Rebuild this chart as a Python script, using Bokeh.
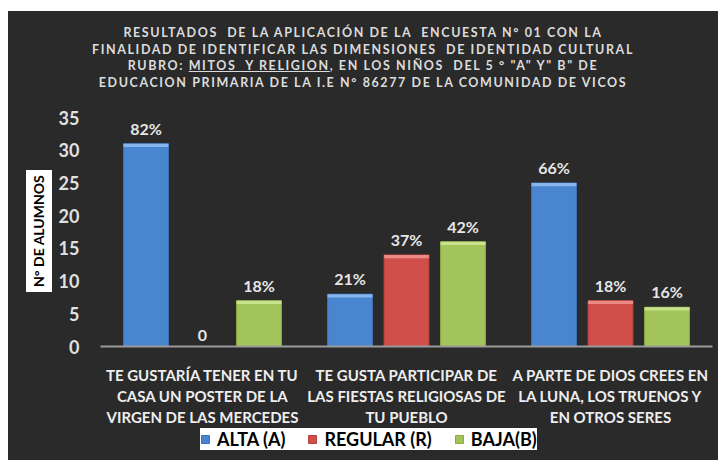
from bokeh.plotting import figure
from bokeh.layouts import column, row
from bokeh.models import (ColumnDataSource, FactorRange, Range1d, Legend, LegendItem,
                          FixedTicker, Spacer, Div)
from bokeh.transform import dodge
from bokeh.core.properties import value
from bokeh.embed import file_html
from bokeh.resources import INLINE

categories = [
    "TE GUSTARÍA TENER EN TU\nCASA UN POSTER DE LA\nVIRGEN DE LAS MERCEDES",
    "TE GUSTA PARTICIPAR DE\nLAS FIESTAS RELIGIOSAS DE\nTU PUEBLO",
    "A PARTE DE DIOS CREES EN\nLA LUNA, LOS TRUENOS Y\nEN OTROS SERES",
]
series_names = ["ALTA (A)", "REGULAR (R)", "BAJA(B)"]
alta = [31, 8, 25]
regular = [0, 14, 7]
baja = [7, 16, 6]
alta_labels = ["82%", "21%", "66%"]
regular_labels = ["0", "37%", "18%"]
baja_labels = ["18%", "42%", "16%"]
y_ticks = [0, 5, 10, 15, 20, 25, 30, 35]

title_lines = [
    "RESULTADOS  DE LA APLICACIÓN DE LA  ENCUESTA N° 01 CON LA",
    "FINALIDAD DE IDENTIFICAR LAS DIMENSIONES  DE IDENTIDAD CULTURAL",
    "RUBRO: MITOS  Y RELIGION, EN LOS NIÑOS  DEL 5 ° \"A\" Y\" B\" DE",
    "EDUCACION PRIMARIA DE LA I.E N° 86277 DE LA COMUNIDAD DE VICOS",
]
underlined = "MITOS  Y RELIGION"
y_label = "N° DE ALUMNOS"

BG = "#2a2a2a"
colors = ["#4a86d0", "#d14f4b", "#a3c458"]
bevel_colors = ["#86b4ec", "#eb8a85", "#c9e28c"]
edge_colors = ["#3d72b6", "#b8403c", "#8aab45"]

# ---------- title (HTML block above the chart) ----------
title_html = "\n".join(title_lines).replace(underlined, "<u>" + underlined + "</u>")
title_div = Div(
    text=('<div style="width:710px;height:92px;box-sizing:border-box;padding-top:14px;'
          'background:%s;color:#dcdcdc;font-family:Lato;font-weight:bold;font-size:12.5px;'
          'letter-spacing:1.6px;line-height:16.5px;text-align:center;white-space:pre;">%s</div>'
          % (BG, title_html)),
    width=710, height=92, margin=0, styles={"background-color": BG})

# ---------- y axis title box (HTML, left of the chart) ----------
ylab_div = Div(
    text=('<div style="position:relative;width:46px;height:325px;background:%s;">'
          '<div style="position:absolute;left:18px;top:67px;width:26px;height:122px;'
          'background:white;color:black;font-family:Lato;font-weight:bold;font-size:14px;'
          'writing-mode:vertical-rl;transform:rotate(180deg);line-height:26px;'
          'text-align:center;white-space:nowrap;">%s</div></div>' % (BG, y_label)),
    width=46, height=325, margin=0, styles={"background-color": BG})

# ---------- main chart ----------
src = ColumnDataSource(dict(
    cat=categories, alta=alta, regular=regular, baja=baja,
    alta_b=[max(v - 0.5, 0) for v in alta],
    regular_b=[max(v - 0.5, 0) for v in regular],
    baja_b=[max(v - 0.5, 0) for v in baja],
    alta_l=alta_labels, regular_l=regular_labels, baja_l=baja_labels))

p = figure(width=664, height=325,
           x_range=FactorRange(factors=categories, range_padding=0),
           y_range=Range1d(0, 35),
           output_backend="svg", toolbar_location=None,
           min_border_left=46, min_border_right=6, min_border_top=14, min_border_bottom=80)
p.title = None
p.background_fill_color = BG
p.border_fill_color = BG
p.outline_line_color = None
p.xgrid.grid_line_color = None
p.ygrid.grid_line_color = None

off = 0.277
w = 0.22
keys = ["alta", "regular", "baja"]
renderers = []
for i, k in enumerate(keys):
    d = (i - 1) * off
    xd = dodge("cat", d, range=p.x_range)
    r = p.vbar(x=xd, top=k, width=w, source=src,
               fill_color=colors[i], line_color=edge_colors[i], line_width=1)
    renderers.append(r)
    p.vbar(x=xd, top=k, bottom=k + "_b", width=w, source=src,
           fill_color=bevel_colors[i], line_color=None)
    p.text(x=xd, y=k, text=k + "_l", source=src,
           text_align="center", text_baseline="bottom", y_offset=-6,
           text_font=value("Lato"), text_font_style="bold", text_font_size="16px",
           text_color="#e6e6e6")

xa = p.xaxis[0]
xa.axis_line_color = "#9a9a9a"
xa.axis_line_width = 2
xa.major_tick_line_color = None
xa.minor_tick_line_color = None
xa.major_tick_out = 0
xa.major_label_standoff = 19
xa.major_label_text_font = "Lato"
xa.major_label_text_font_style = "bold"
xa.major_label_text_font_size = "15px"
xa.major_label_text_color = "#eeeeee"
xa.major_label_text_line_height = 1.17

ya = p.yaxis[0]
ya.ticker = FixedTicker(ticks=y_ticks)
ya.axis_line_color = None
ya.major_tick_line_color = None
ya.minor_tick_line_color = None
ya.major_tick_out = 0
ya.major_label_standoff = 21
ya.major_label_text_font = "Lato"
ya.major_label_text_font_style = "bold"
ya.major_label_text_font_size = "18px"
ya.major_label_text_color = "#e0e0e0"

# ---------- legend (own strip below the chart) ----------
lf = figure(width=710, height=32, x_range=Range1d(-2, -1), y_range=Range1d(-2, -1),
            x_axis_type=None, y_axis_type=None,
            output_backend="svg", toolbar_location=None,
            min_border_left=192, min_border_right=0, min_border_top=0, min_border_bottom=0)
lf.title = None
lf.background_fill_color = BG
lf.border_fill_color = BG
lf.outline_line_color = None
lf.xgrid.grid_line_color = None
lf.ygrid.grid_line_color = None
leg_r = [lf.vbar(x=k, top=k, width=0.1, source=src, fill_color=colors[i], line_color=edge_colors[i])
         for i, k in enumerate(keys)]
legend = Legend(items=[LegendItem(label=series_names[i], renderers=[leg_r[i]]) for i in range(3)],
                orientation="horizontal", location="top_left",
                background_fill_color="white", background_fill_alpha=1.0,
                border_line_color=None,
                label_text_font="Lato", label_text_font_style="bold",
                label_text_font_size="18px", label_text_color="black",
                glyph_width=10, glyph_height=10, spacing=22, padding=8, margin=0,
                label_standoff=7)
lf.add_layout(legend, "center")

inner = column(title_div, row(ylab_div, p, spacing=0), lf, spacing=0,
               styles={"background-color": BG})
layout = column(Spacer(height=11, width=718),
                row(Spacer(width=8, height=449), inner, spacing=0),
                spacing=0)
open("out.html", "w").write(file_html(layout, INLINE))
